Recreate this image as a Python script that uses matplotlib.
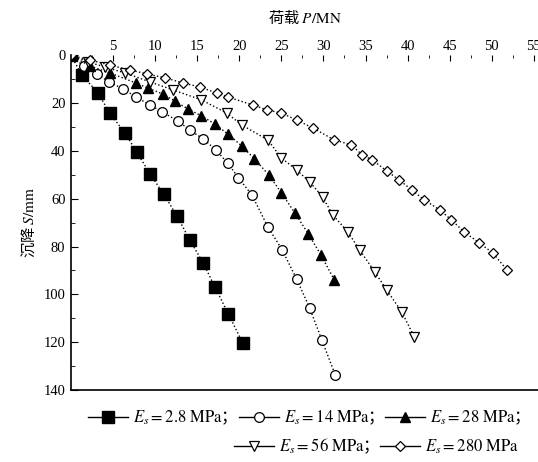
import matplotlib
matplotlib.use('Agg')
import matplotlib.pyplot as plt
from matplotlib.ticker import MultipleLocator
from matplotlib.font_manager import FontProperties

plt.rcParams['font.family'] = ['Liberation Serif', 'Noto Sans CJK SC']
plt.rcParams['mathtext.fontset'] = 'stix'

# load P (MN) vs settlement S (mm) for each soil modulus
p_28 = [0, 1.3, 3.2, 4.6, 6.4, 7.8, 9.4, 11.0, 12.6, 14.1, 15.7, 17.1, 18.7, 20.4]
s_28 = [0, 8.2, 15.7, 24.1, 32.4, 40.4, 49.6, 58.0, 67.2, 77.2, 86.8, 96.9, 108.2, 120.3]

p_14 = [0, 1.5, 3.1, 4.5, 6.2, 7.7, 9.4, 10.8, 12.7, 14.1, 15.7, 17.2, 18.6, 19.9,
        21.5, 23.4, 25.1, 26.8, 28.35, 29.8, 31.4]
s_14 = [0, 4.4, 7.7, 11.1, 14.0, 17.4, 20.7, 23.6, 27.4, 31.2, 34.9, 39.5, 45.0, 51.2,
        58.4, 71.8, 81.4, 93.5, 105.6, 119.0, 133.7]

p_280 = [0, 2.25, 4.6, 7.7, 9.1, 10.9, 12.3, 13.9, 15.5, 17.1, 18.6, 20.3, 21.8, 23.5,
         25.0, 26.6, 28.2, 29.7, 31.3]
s_280 = [0, 4.4, 7.3, 11.5, 13.6, 16.1, 19.0, 22.4, 25.3, 28.7, 32.8, 37.9, 43.3, 50.0,
         57.5, 65.9, 74.7, 83.5, 94.0]

p_56 = [0, 2.0, 4.0, 6.4, 9.4, 12.1, 15.5, 18.5, 20.3, 23.4, 25.0, 26.8, 28.35, 29.9,
        31.1, 32.9, 34.3, 36.1, 37.5, 39.3, 40.8]
s_56 = [0, 2.7, 4.8, 7.3, 11.1, 14.4, 18.6, 24.1, 29.1, 35.4, 42.9, 47.9, 52.9, 59.2,
        66.7, 73.9, 81.4, 90.6, 98.1, 107.3, 117.8]

p_2800 = [0, 2.25, 4.6, 7.0, 9.0, 11.2, 13.3, 15.3, 17.3, 18.6, 21.6, 23.3, 25.0, 26.8,
          28.7, 31.3, 33.3, 34.6, 35.8, 37.5, 39.0, 40.5, 42.0, 43.8, 45.2, 46.7, 48.5,
          50.1, 51.8]
s_2800 = [0, 1.9, 4.0, 6.1, 7.7, 9.4, 11.5, 13.2, 15.7, 17.4, 20.7, 22.8, 24.1, 27.0,
          30.3, 35.4, 37.4, 41.6, 43.7, 48.3, 52.1, 56.3, 60.5, 64.6, 68.8, 73.8, 78.4,
          82.6, 89.7]

labels = [r'$E_s\mathrm{=2.8\ MPa}$；', r'$E_s\mathrm{=14\ MPa}$；',
          r'$E_s\mathrm{=28\ MPa}$；', r'$E_s\mathrm{=56\ MPa}$；',
          r'$E_s\mathrm{=280\ MPa}$']

fig = plt.figure(figsize=(5.38, 4.62), dpi=100)
ax = fig.add_axes([0.132, 0.156, 0.868, 0.724])

h1, = ax.plot(p_28, s_28, ':', color='black', lw=1, marker='s', ms=8.5,
              mfc='black', mec='black', label=labels[0])
h2, = ax.plot(p_14, s_14, ':', color='black', lw=1, marker='o', ms=7,
              mfc='white', mec='black', mew=0.9, label=labels[1])
h3, = ax.plot(p_280, s_280, ':', color='black', lw=1, marker='^', ms=7.5,
              mfc='black', mec='black', label=labels[2])
h4, = ax.plot(p_56, s_56, ':', color='black', lw=1, marker='v', ms=6.5,
              mfc='white', mec='black', mew=0.9, label=labels[3])
h5, = ax.plot(p_2800, s_2800, ':', color='black', lw=1, marker='D', ms=5.5,
              mfc='white', mec='black', mew=0.9, label=labels[4])

ax.set_xlim(0, 55.5)
ax.set_ylim(140, 0)
ax.xaxis.tick_top()
ax.xaxis.set_label_position('top')
ax.set_xticks([5, 10, 15, 20, 25, 30, 35, 40, 45, 50, 55])
ax.xaxis.set_minor_locator(MultipleLocator(2.5))
ax.yaxis.set_major_locator(MultipleLocator(20))
ax.yaxis.set_minor_locator(MultipleLocator(10))
ax.tick_params(axis='both', which='both', direction='in', labelsize=10.5)
ax.tick_params(axis='x', which='major', length=4, pad=2)
ax.tick_params(axis='x', which='minor', length=2)
ax.tick_params(axis='y', which='major', length=5, pad=4)
ax.tick_params(axis='y', which='minor', length=3)
ax.spines['top'].set_visible(False)
ax.spines['right'].set_visible(False)
ax.spines['left'].set_linewidth(1.2)
ax.spines['bottom'].set_linewidth(1.2)

# CJK font first so the plain text finds its glyphs; math parts use stix
cjk = FontProperties(family='Noto Sans CJK SC', size=11)
ax.set_xlabel(r'荷载 $P/\mathrm{MN}$', fontproperties=cjk, labelpad=12)
ax.set_ylabel(r'沉降 $S/\mathrm{mm}$', fontproperties=cjk, labelpad=4)

prop = FontProperties(family='Noto Sans CJK SC', size=12)
leg1 = fig.legend(handles=[h1, h2, h3], loc='center', bbox_to_anchor=(0.567, 0.095),
                  ncol=3, frameon=False, prop=prop, handlelength=2.4,
                  handletextpad=0.3, columnspacing=0.6)
leg2 = fig.legend(handles=[h4, h5], loc='center', bbox_to_anchor=(0.70, 0.033),
                  ncol=2, frameon=False, prop=prop, handlelength=2.4,
                  handletextpad=0.3, columnspacing=0.6)
for leg in (leg1, leg2):
    for line in leg.get_lines():
        line.set_linestyle('-')

fig.savefig('out.png', dpi=100)
